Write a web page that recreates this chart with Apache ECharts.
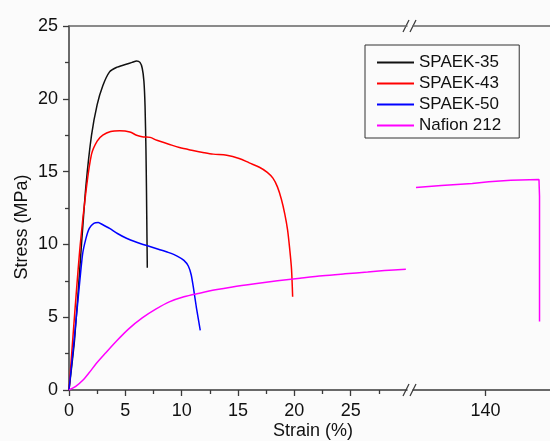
<!DOCTYPE html>
<html style="height: 100%">
<head>
    <meta charset="UTF-8" />
    <title>Stress-Strain</title>
    <script src="https://cdn.jsdelivr.net/npm/echarts@6/dist/echarts.min.js"></script>
</head>
<body style="margin:0;height:100%;background:#fbfbfb">
    <div id="main" style="width:550px;height:441px;"></div>
    <script>
        /* data: [strain %, stress MPa] */
        var spaek35 = [[0,0],[0.5,3.5],[1.1,9.9],[1.5,14],[2.0,17.5],[2.5,19.6],[3.0,20.9],[3.6,21.85],[4.2,22.15],[5.0,22.35],[5.6,22.5],[6.0,22.6],[6.3,22.5],[6.5,22.1],[6.65,21.2],[6.75,19.5],[6.83,16.5],[6.88,13.5],[6.92,10.5],[6.95,8.4]];
        var spaek43 = [[0,0],[0.5,5.2],[1.0,10],[1.5,13.6],[2.0,16.2],[2.5,17.1],[3.0,17.5],[3.7,17.75],[4.5,17.8],[5.4,17.72],[6.0,17.5],[6.6,17.38],[7.2,17.35],[7.8,17.15],[8.8,16.9],[9.8,16.65],[11.0,16.45],[12.0,16.3],[12.8,16.2],[14.0,16.12],[15.1,15.9],[16.0,15.6],[16.9,15.3],[17.6,14.95],[18.1,14.55],[18.5,13.95],[18.85,13.1],[19.15,12.1],[19.4,11.0],[19.6,9.6],[19.75,8.3],[19.85,6.4]];
        var spaek50 = [[0,0],[0.4,3],[0.8,6.2],[1.2,9.3],[1.5,10.4],[1.8,11.1],[2.2,11.45],[2.6,11.5],[3.0,11.35],[3.6,11.1],[4.3,10.75],[5.1,10.42],[6.0,10.15],[6.9,9.92],[8.0,9.65],[8.8,9.45],[9.6,9.2],[10.2,8.9],[10.6,8.5],[10.85,7.9],[11.05,7.0],[11.3,5.7],[11.65,4.1]];
        var nafionLeft = [[0,0],[0.6,0.25],[1.2,0.65],[1.8,1.2],[2.4,1.8],[3.2,2.5],[4.2,3.35],[5.3,4.2],[6.5,4.95],[7.7,5.55],[8.9,6.05],[10.2,6.4],[11.6,6.65],[13.0,6.88],[14.5,7.08],[16.5,7.3],[18.5,7.5],[20.5,7.68],[22.5,7.85],[24.5,7.98],[26.5,8.1],[28.0,8.2],[29.9,8.3]];
        var nafionRight = [[133.7,13.9],[136,14.05],[138.8,14.19],[140.3,14.3],[142.3,14.41],[144.85,14.46],[144.9,13.3],[144.9,4.7]];

        var leftTicks = [0, 5, 10, 15, 20, 25];
        var rightTicks = [140];

        var font = 'Liberation Sans, Arial, sans-serif';
        var axisColor = '#3a3a3a';

        var app = echarts.init(document.getElementById('main'));

        // the "//" marks of the axis break
        function breakMark(y){
            return [
                {type: 'line', shape: {x1: 403, y1: y + 6, x2: 409, y2: y - 6}, style: {stroke: axisColor, lineWidth: 1.3}},
                {type: 'line', shape: {x1: 410, y1: y + 6, x2: 416, y2: y - 6}, style: {stroke: axisColor, lineWidth: 1.3}}
            ];
        }

        var option = {
            backgroundColor: '#fbfbfb',
            animation: false,
            color: ['#111111', '#ff0000', '#0000ff', '#ff00ff'],
            grid: [
                {left: 69, top: 26, width: 338, height: 364},
                {left: 413, top: 26, width: 140, height: 364}
            ],
            legend: {
                orient: 'vertical',
                left: 365,
                top: 45,
                data: ['SPAEK-35', 'SPAEK-43', 'SPAEK-50', 'Nafion 212'],
                icon: 'rect',
                itemWidth: 37,
                itemHeight: 2,
                itemGap: 4,
                padding: [9, 18, 4, 12],
                borderColor: '#333',
                borderWidth: 1,
                textStyle: {fontSize: 17, fontFamily: font, color: '#111'}
            },
            xAxis: [
                {
                    gridIndex: 0, type: 'value', position: 'bottom',
                    min: 0, max: 30, interval: 5,
                    axisLine: {lineStyle: {color: axisColor, width: 1.5}},
                    axisTick: {length: 6, customValues: leftTicks, lineStyle: {color: axisColor, width: 1.3}},
                    minorTick: {show: true, splitNumber: 2, length: 4, lineStyle: {color: axisColor, width: 1.3}},
                    axisLabel: {customValues: leftTicks, margin: 12, fontSize: 18, fontFamily: font, color: '#111'},
                    splitLine: {show: false}
                },
                {
                    gridIndex: 0, type: 'value', position: 'top',
                    min: 0, max: 30,
                    axisLine: {lineStyle: {color: '#666', width: 1.5}},
                    axisTick: {show: false}, axisLabel: {show: false}, splitLine: {show: false}
                },
                {
                    gridIndex: 1, type: 'value', position: 'bottom',
                    min: 133.43, max: 145.85,
                    axisLine: {lineStyle: {color: axisColor, width: 1.5}},
                    axisTick: {length: 6, customValues: rightTicks, lineStyle: {color: axisColor, width: 1.3}},
                    axisLabel: {customValues: rightTicks, margin: 12, fontSize: 18, fontFamily: font, color: '#111'},
                    splitLine: {show: false}
                },
                {
                    gridIndex: 1, type: 'value', position: 'top',
                    min: 133.43, max: 145.85,
                    axisLine: {lineStyle: {color: '#666', width: 1.5}},
                    axisTick: {show: false}, axisLabel: {show: false}, splitLine: {show: false}
                }
            ],
            yAxis: [
                {
                    gridIndex: 0, type: 'value',
                    min: 0, max: 25, interval: 5,
                    axisLine: {show: true, lineStyle: {color: axisColor, width: 1.5}},
                    axisTick: {show: true, length: 6, lineStyle: {color: axisColor, width: 1.3}},
                    minorTick: {show: true, splitNumber: 2, length: 4, lineStyle: {color: axisColor, width: 1.3}},
                    axisLabel: {margin: 11, fontSize: 18, fontFamily: font, color: '#111'},
                    splitLine: {show: false}
                },
                {
                    gridIndex: 1, type: 'value',
                    min: 0, max: 25,
                    show: false
                }
            ],
            graphic: breakMark(390).concat(breakMark(26)).concat([
                {
                    type: 'text', x: 313, y: 431,
                    style: {text: 'Strain (%)', fontSize: 18, fontFamily: font, fill: '#111', align: 'center', verticalAlign: 'middle'}
                },
                {
                    type: 'text', x: 22, y: 227, rotation: Math.PI / 2,
                    style: {text: 'Stress (MPa)', fontSize: 18, fontFamily: font, fill: '#111', align: 'center', verticalAlign: 'middle'}
                }
            ]),
            series: [
                {name: 'SPAEK-35', type: 'line', xAxisIndex: 0, yAxisIndex: 0, showSymbol: false, smooth: 0.2, lineStyle: {width: 1.5}, data: spaek35},
                {name: 'SPAEK-43', type: 'line', xAxisIndex: 0, yAxisIndex: 0, showSymbol: false, smooth: 0.3, lineStyle: {width: 1.5}, data: spaek43},
                {name: 'SPAEK-50', type: 'line', xAxisIndex: 0, yAxisIndex: 0, showSymbol: false, smooth: 0.2, lineStyle: {width: 1.5}, data: spaek50},
                {name: 'Nafion 212', type: 'line', xAxisIndex: 0, yAxisIndex: 0, showSymbol: false, smooth: 0.3, lineStyle: {width: 1.5}, data: nafionLeft},
                {name: 'Nafion 212', type: 'line', xAxisIndex: 2, yAxisIndex: 1, showSymbol: false, lineStyle: {width: 1.5}, data: nafionRight}
            ]
        };
        app.setOption(option);
    </script>
</body>
</html>
